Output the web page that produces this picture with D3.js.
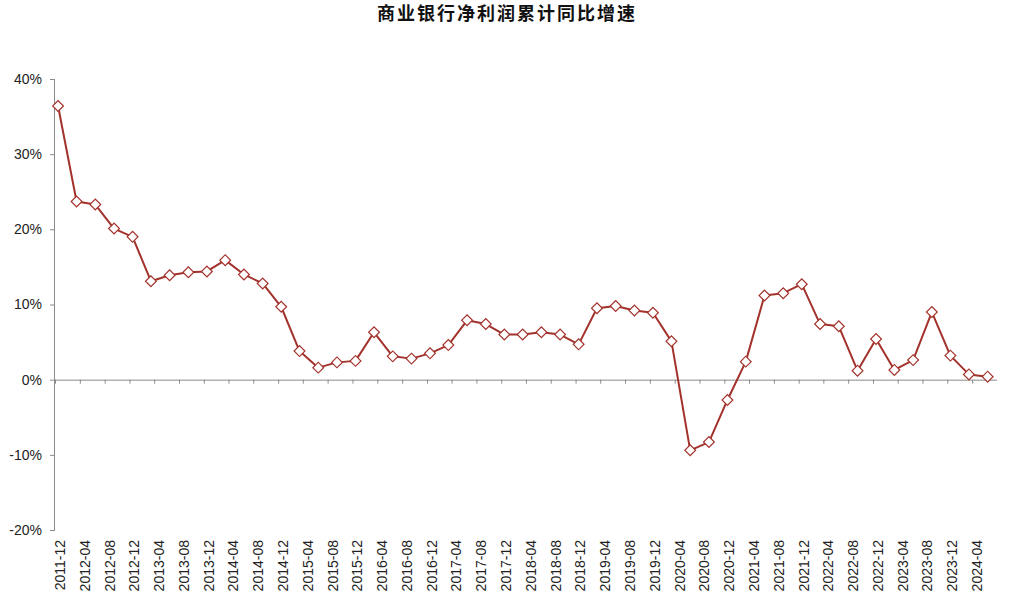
<!DOCTYPE html>
<html><head><meta charset="utf-8">
<script src="https://cdn.jsdelivr.net/npm/d3@7"></script>
<style>
html,body{margin:0;padding:0;background:#fff;}
text{font-family:"Liberation Sans",Arial,sans-serif;fill:#222;}
.title{font-family:"Noto Sans CJK SC",sans-serif;font-weight:bold;fill:#111;}
</style></head>
<body><svg id="c" width="1024" height="597"></svg>
<script>
const titleText = "商业银行净利润累计同比增速";
const periods = ["2011-12","2012-03","2012-06","2012-09","2012-12","2013-03","2013-06","2013-09","2013-12",
 "2014-03","2014-06","2014-09","2014-12","2015-03","2015-06","2015-09","2015-12","2016-03","2016-06","2016-09","2016-12",
 "2017-03","2017-06","2017-09","2017-12","2018-03","2018-06","2018-09","2018-12","2019-03","2019-06","2019-09","2019-12",
 "2020-03","2020-06","2020-09","2020-12","2021-03","2021-06","2021-09","2021-12","2022-03","2022-06","2022-09","2022-12",
 "2023-03","2023-06","2023-09","2023-12","2024-03","2024-06"];
const growth = [36.4,23.7,23.3,20.1,19.0,13.1,13.9,14.3,14.4,15.9,14.0,12.8,9.7,3.8,1.6,2.3,2.5,6.3,3.1,2.8,3.5,
 4.6,7.9,7.4,6.0,6.0,6.3,6.0,4.7,9.5,9.8,9.2,8.9,5.1,-9.4,-8.3,-2.7,2.4,11.2,11.5,12.7,7.4,7.1,1.2,5.4,
 1.3,2.6,9.0,3.2,0.7,0.4];
const xTickLabels = ["2011-12","2012-04","2012-08","2012-12","2013-04","2013-08","2013-12","2014-04","2014-08","2014-12",
 "2015-04","2015-08","2015-12","2016-04","2016-08","2016-12","2017-04","2017-08","2017-12","2018-04","2018-08","2018-12",
 "2019-04","2019-08","2019-12","2020-04","2020-08","2020-12","2021-04","2021-08","2021-12","2022-04","2022-08","2022-12",
 "2023-04","2023-08","2023-12","2024-04"];
const yTicks = [-20,-10,0,10,20,30,40];
const xDomainLabels = ["2011-12","2024-08"];

const parseMonth = s => { const [yy,m] = s.split("-").map(Number); return new Date(yy, m-1, 1); };
const midMonth = s => { const [yy,m] = s.split("-").map(Number); return new Date(yy, m-1, 16); };

const svg = d3.select("#c");
const pLeft = 55, pRight = 997, pTop = 79, pBottom = 530;
const x = d3.scaleTime().domain(xDomainLabels.map(parseMonth)).range([pLeft, pRight]);
const y = d3.scaleLinear().domain([-20, 40]).range([pBottom, pTop]);
const axisColor = "#8a8a8a";

svg.append("text").attr("class","title").attr("x", 507).attr("y", 20)
  .attr("text-anchor","middle").style("font-size","18px").style("letter-spacing","2px").text(titleText);

// Y axis
const yAxis = svg.append("g").attr("transform",`translate(${pLeft},0)`)
  .call(d3.axisLeft(y).tickValues(yTicks).tickSize(5).tickPadding(8).tickFormat(d => d + "%"));
yAxis.select(".domain").attr("stroke", axisColor).attr("d", `M-0.5,${pTop}V${pBottom}`);
yAxis.selectAll(".tick line").attr("stroke", axisColor);
yAxis.selectAll(".tick text").style("font-size","14px").attr("fill","#222");

// X axis at zero line
const xAxis = svg.append("g").attr("transform",`translate(0,${y(0)})`)
  .call(d3.axisBottom(x).tickValues(xTickLabels.map(parseMonth)).tickSize(4).tickFormat(""));
xAxis.select(".domain").attr("stroke", axisColor).attr("d", `M${pLeft},0.5H${pRight}`);
xAxis.selectAll(".tick line").attr("stroke", axisColor);

// X labels at bottom, rotated
svg.append("g").selectAll("text").data(xTickLabels).join("text")
  .attr("transform", d => `translate(${x(parseMonth(d)) + 5},${pBottom + 10}) rotate(-90)`)
  .attr("text-anchor","end").attr("dy","0.35em").style("font-size","14px").text(d => d);

// Line
const data = periods.map((p,i) => ({date: midMonth(p), v: growth[i]}));
const lineColor = "#a3322c";
svg.append("path").datum(data)
  .attr("fill","none").attr("stroke", lineColor).attr("stroke-width", 2).attr("stroke-linejoin","round")
  .attr("d", d3.line().x(d => x(d.date)).y(d => y(d.v)));

// Diamond markers
const sym = d3.symbol().type(d3.symbolSquare).size(58);
svg.append("g").selectAll("path").data(data).join("path")
  .attr("transform", d => `translate(${x(d.date)},${y(d.v)}) rotate(45)`)
  .attr("d", sym).attr("fill","#fff").attr("stroke", lineColor).attr("stroke-width", 1.2);
</script></body></html>
